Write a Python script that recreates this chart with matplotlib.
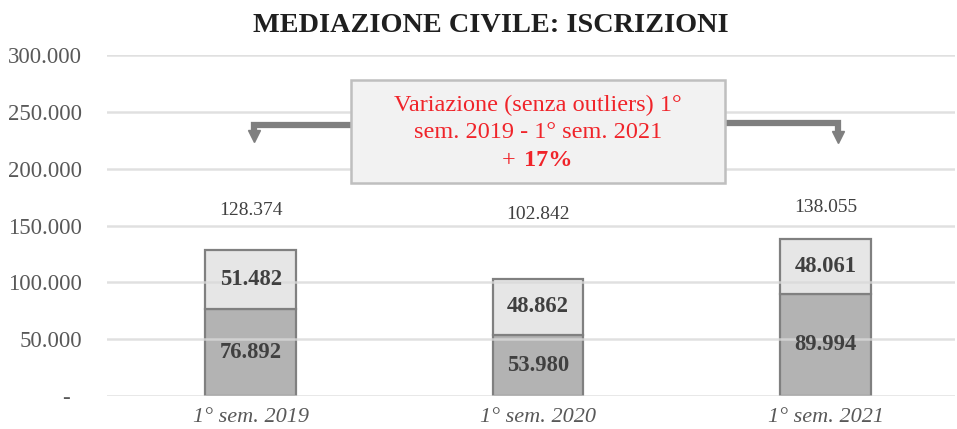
import matplotlib.pyplot as plt
from matplotlib.patches import Rectangle
from matplotlib.ticker import FuncFormatter

# dati
categorie = ["1° sem. 2019", "1° sem. 2020", "1° sem. 2021"]
base = [76892, 53980, 89994]
sopra = [51482, 48862, 48061]
totali = [128374, 102842, 138055]
titolo = "MEDIAZIONE CIVILE: ISCRIZIONI"


def fmt_it(v):
    return f"{int(round(v)):,}".replace(",", ".")


plt.rcParams["font.family"] = ["Liberation Serif", "DejaVu Serif"]

fig = plt.figure(figsize=(9.57, 4.29), dpi=100)
ax = fig.add_axes([107 / 957, 33 / 429, 848 / 957, 341 / 429])

x = list(range(len(categorie)))
w = 0.315
ax.bar(x, base, width=w, color="#b3b3b3", edgecolor="#808080", linewidth=1.6, zorder=2)
ax.bar(x, sopra, width=w, bottom=base, color="#e6e6e6", edgecolor="#808080",
       linewidth=1.6, zorder=2)

for i in x:
    ax.text(i, base[i] / 2, fmt_it(base[i]), ha="center", va="center",
            fontsize=16.3, fontweight="bold", color="#404040", zorder=5)
    ax.text(i, base[i] + sopra[i] / 2, fmt_it(sopra[i]), ha="center", va="center",
            fontsize=16.3, fontweight="bold", color="#404040", zorder=5)

# totali sopra le colonne
pos_tot = [163500, 160000, 165500]
for i in x:
    ax.text(i, pos_tot[i], fmt_it(totali[i]), ha="center", va="center",
            fontsize=14, color="#404040")

ax.set_ylim(0, 300000)
ax.set_xlim(-0.5, 2.45)
ax.set_yticks(range(0, 300001, 50000))
ax.yaxis.set_major_formatter(FuncFormatter(lambda v, p: "-  " if v == 0 else fmt_it(v)))
ax.set_xticks(x)
ax.set_xticklabels(categorie, fontstyle="italic")
ax.tick_params(axis="y", labelsize=16.5, labelcolor="#595959", length=0, pad=18)
ax.tick_params(axis="x", labelsize=16, labelcolor="#595959", length=0, pad=9)
ax.grid(axis="y", color="#d9d9d9", linewidth=1.8, alpha=0.8, zorder=3)
ax.set_axisbelow(False)
for s in ax.spines.values():
    s.set_visible(False)

fig.text(491 / 957, 1 - 26 / 429, titolo, ha="center", va="center",
         fontsize=20.3, fontweight="bold", color="#1f1f1f")

# riquadro variazione
bx0, bx1 = 0.349, 1.650
by0, by1 = 187000, 278000
ax.add_patch(Rectangle((bx0, by0), bx1 - bx0, by1 - by0, facecolor="#f2f2f2",
                       edgecolor="#bfbfbf", linewidth=1.8, zorder=6))
rosso = "#f0242a"
cx = (bx0 + bx1) / 2
ax.text(cx, 256000, "Variazione (senza outliers) 1°", ha="center", va="center",
        fontsize=17.5, color=rosso, zorder=7)
ax.text(cx, 231500, "sem. 2019 - 1° sem. 2021", ha="center", va="center",
        fontsize=17.5, color=rosso, zorder=7)
ax.text(0.921, 207500, "+", ha="right", va="center", fontsize=17.5,
        color=rosso, zorder=7)
ax.text(0.950, 207500, "17%", ha="left", va="center", fontsize=17.5,
        fontweight="bold", color=rosso, zorder=7)

# frecce a gomito
grigio = "#7f7f7f"
ax.plot([bx0, 0.012, 0.012], [238400, 238400, 231500], color=grigio, lw=4.5,
        solid_joinstyle="miter", solid_capstyle="butt", zorder=4)
ax.plot([0.012], [228500], marker="v", markersize=9, color=grigio, zorder=4)
ax.plot([bx1, 2.043, 2.043], [240500, 240500, 231000], color=grigio, lw=4.5,
        solid_joinstyle="miter", solid_capstyle="butt", zorder=4)
ax.plot([2.043], [227500], marker="v", markersize=9, color=grigio, zorder=4)

fig.savefig("out.png", dpi=100)
